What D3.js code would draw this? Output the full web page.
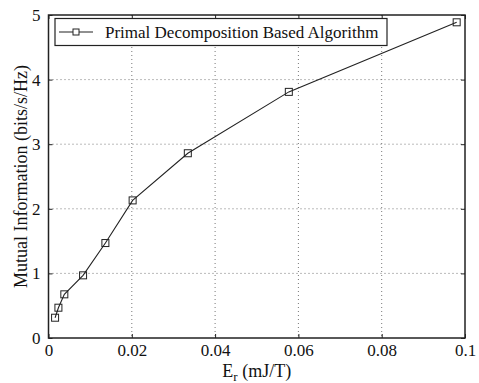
<!DOCTYPE html>
<html>
<head>
<meta charset="utf-8">
<script src="https://cdn.jsdelivr.net/npm/d3@7"></script>
<style>
  body { margin: 0; background: #fff; }
  svg, svg text { font-family: "Liberation Serif", "Times New Roman", Times, serif; }
</style>
</head>
<body>
<div id="chart"></div>
<script>

// data
var energy = [ 0.00158, 0.00238, 0.0038, 0.0083, 0.01366, 0.0202, 0.03345, 0.0577, 0.098 ];
var mutualInfo = [ 0.314, 0.469, 0.676, 0.97, 1.47, 2.13, 2.86, 3.81, 4.887 ];
var xTicks = [ 0, 0.02, 0.04, 0.06, 0.08, 0.1 ];
var yTicks = [ 0, 1, 2, 3, 4, 5 ];
var seriesName = 'Primal Decomposition Based Algorithm';

var width = 479,
    height = 383;

var serif = '"Liberation Serif", "Times New Roman", Times, serif';

var margin = { top: 15, right: 14, bottom: 45, left: 48.5 };
var w = width - margin.left - margin.right,
    h = height - margin.top - margin.bottom;

var svg = d3.select('#chart').append('svg')
    .attr('width', width)
    .attr('height', height);

var g = svg.append('g')
    .attr('transform', 'translate(' + margin.left + ',' + margin.top + ')');

var x = d3.scaleLinear().domain([ 0, 0.1 ]).range([ 0, w ]);
var y = d3.scaleLinear().domain([ 0, 5 ]).range([ h, 0 ]);

var fmt = function ( d ) { return d === 0 ? '0' : String( +d.toFixed( 2 ) ); };

// grid
g.append('g').selectAll('line')
    .data( xTicks.slice( 1, -1 ) )
    .enter().append('line')
    .attr('x1', function ( d ) { return x( d ); })
    .attr('x2', function ( d ) { return x( d ); })
    .attr('y1', 0)
    .attr('y2', h)
    .attr('stroke', '#555')
    .attr('stroke-width', 0.8)
    .attr('stroke-dasharray', '1,3');

g.append('g').selectAll('line')
    .data( yTicks.slice( 1, -1 ) )
    .enter().append('line')
    .attr('x1', 0)
    .attr('x2', w)
    .attr('y1', function ( d ) { return y( d ); })
    .attr('y2', function ( d ) { return y( d ); })
    .attr('stroke', '#555')
    .attr('stroke-width', 0.8)
    .attr('stroke-dasharray', '1,3');

// axes, ticks pointing inward
var xAxis = g.append('g')
    .attr('transform', 'translate(0,' + h + ')')
    .call( d3.axisBottom( x ).tickValues( xTicks ).tickSize( -4 ).tickPadding( 6 ).tickFormat( fmt ) );

var xAxisTop = g.append('g')
    .call( d3.axisTop( x ).tickValues( xTicks ).tickSize( -4 ).tickFormat( '' ) );

var yAxis = g.append('g')
    .call( d3.axisLeft( y ).tickValues( yTicks ).tickSize( -4 ).tickPadding( 8 ).tickFormat( fmt ) );

var yAxisRight = g.append('g')
    .attr('transform', 'translate(' + w + ',0)')
    .call( d3.axisRight( y ).tickValues( yTicks ).tickSize( -4 ).tickFormat( '' ) );

[ xAxis, xAxisTop, yAxis, yAxisRight ].forEach( function ( a ) {
    a.attr('font-family', serif).attr('font-size', 17);
    a.select('.domain').remove();
    a.selectAll('.tick line').attr('stroke', '#222');
    a.selectAll('text')
        .attr('fill', '#111')
        .attr('font-family', serif)
        .attr('font-size', 17);
});

// frame
g.append('rect')
    .attr('width', w)
    .attr('height', h)
    .attr('fill', 'none')
    .attr('stroke', '#222')
    .attr('stroke-width', 1.5);

// series
var points = energy.map( function ( e, i ) { return [ e, mutualInfo[ i ] ]; });

var line = d3.line()
    .x( function ( d ) { return x( d[ 0 ] ); })
    .y( function ( d ) { return y( d[ 1 ] ); });

g.append('path')
    .datum( points )
    .attr('d', line)
    .attr('fill', 'none')
    .attr('stroke', '#222')
    .attr('stroke-width', 1.1);

var ms = 7;

g.selectAll('.marker')
    .data( points )
    .enter().append('rect')
    .attr('class', 'marker')
    .attr('x', function ( d ) { return x( d[ 0 ] ) - ms / 2; })
    .attr('y', function ( d ) { return y( d[ 1 ] ) - ms / 2; })
    .attr('width', ms)
    .attr('height', ms)
    .attr('fill', 'none')
    .attr('stroke', '#222')
    .attr('stroke-width', 1);

// legend
var legend = svg.append('g')
    .attr('transform', 'translate(55,18.5)');

legend.append('rect')
    .attr('width', 332)
    .attr('height', 27)
    .attr('fill', '#fff')
    .attr('stroke', '#222')
    .attr('stroke-width', 1.2);

legend.append('line')
    .attr('x1', 4)
    .attr('x2', 38)
    .attr('y1', 13.5)
    .attr('y2', 13.5)
    .attr('stroke', '#222')
    .attr('stroke-width', 1.1);

legend.append('rect')
    .attr('x', 21 - 3)
    .attr('y', 13.5 - 3)
    .attr('width', 6)
    .attr('height', 6)
    .attr('fill', '#fff')
    .attr('stroke', '#222');

legend.append('text')
    .attr('x', 50)
    .attr('y', 19.5)
    .attr('fill', '#111')
    .attr('font-family', serif)
    .attr('font-size', 17)
    .text( seriesName );

// axis labels
var xLabel = svg.append('text')
    .attr('x', margin.left + w / 2)
    .attr('y', 377)
    .attr('text-anchor', 'middle')
    .attr('fill', '#111')
    .attr('font-family', serif)
    .attr('font-size', 18);

xLabel.append('tspan').text('E');
xLabel.append('tspan').attr('dy', 4).attr('font-size', 13).text('r');
xLabel.append('tspan').attr('dy', -4).text(' (mJ/T)');

svg.append('text')
    .attr('transform', 'translate(27,' + ( margin.top + h / 2 ) + ') rotate(-90)')
    .attr('text-anchor', 'middle')
    .attr('fill', '#111')
    .attr('font-family', serif)
    .attr('font-size', 18)
    .text('Mutual Information (bits/s/Hz)');

</script>
</body>
</html>
